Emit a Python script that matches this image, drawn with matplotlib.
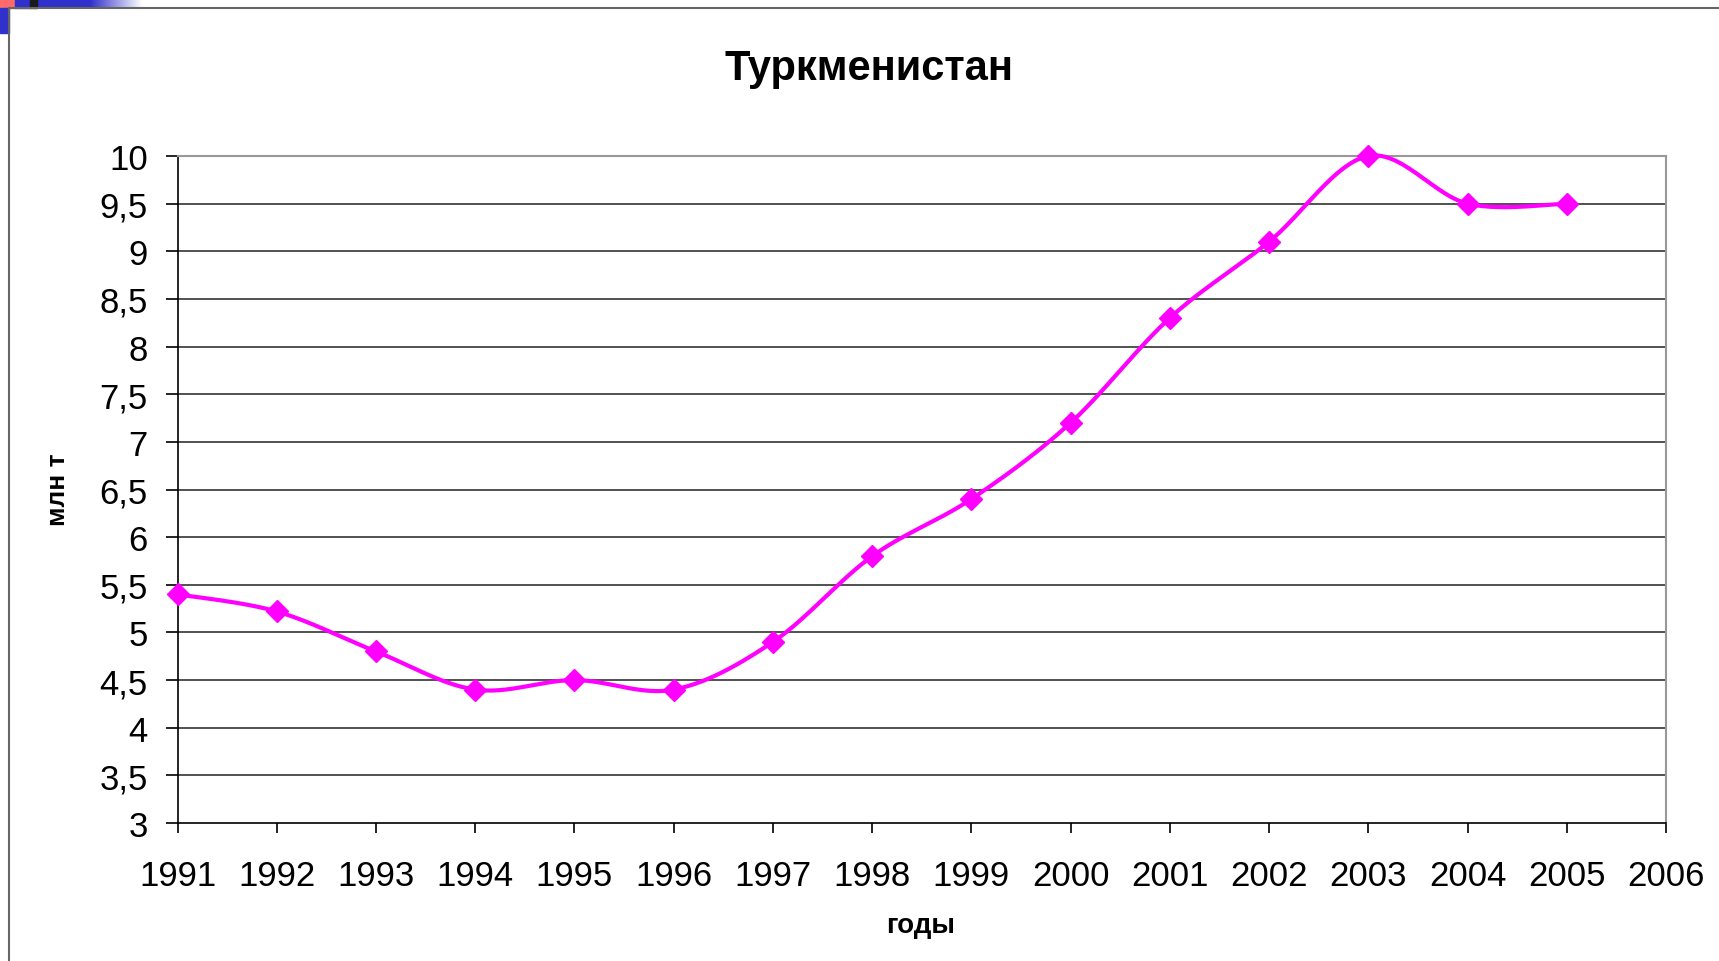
import numpy as np
import matplotlib
matplotlib.use("Agg")
import matplotlib.pyplot as plt
from matplotlib.patches import Rectangle
from matplotlib.colors import LinearSegmentedColormap

plt.rcParams['font.family'] = ['Liberation Sans', 'DejaVu Sans']

# Data
years = [1991, 1992, 1993, 1994, 1995, 1996, 1997, 1998,
         1999, 2000, 2001, 2002, 2003, 2004, 2005]
values = [5.4, 5.22, 4.8, 4.4, 4.5, 4.4, 4.9, 5.8,
          6.4, 7.2, 8.3, 9.1, 10.0, 9.5, 9.5]
year_ticks = list(range(1991, 2007))
y_ticks = [3 + 0.5 * i for i in range(15)]

title = "Туркменистан"
x_label = "годы"
y_label = "млн т"
line_color = "#FF00FF"


# Smooth curve through the points (like Excel's "smoothed line")
def smooth_curve(xs, ys, steps=30):
    pts = np.column_stack([xs, ys]).astype(float)
    out = []
    n = len(pts)
    for i in range(n - 1):
        p0 = pts[i - 1] if i > 0 else pts[i]
        p1 = pts[i]
        p2 = pts[i + 1]
        p3 = pts[i + 2] if i + 2 < n else pts[i + 1]
        c1 = p1 + (p2 - p0) / 6.0
        c2 = p2 - (p3 - p1) / 6.0
        t = np.linspace(0, 1, steps)[:, None]
        seg = ((1 - t) ** 3) * p1 + 3 * ((1 - t) ** 2) * t * c1 \
            + 3 * (1 - t) * t ** 2 * c2 + t ** 3 * p2
        out.append(seg if i == 0 else seg[1:])
    curve = np.vstack(out)
    return curve[:, 0], curve[:, 1]


fig = plt.figure(figsize=(17.19, 9.62), dpi=100)
W, H = 1719, 962

# slide decoration in the top-left corner
fig.patches.append(Rectangle((0, 1 - 9 / H), 15 / W, 9 / H, transform=fig.transFigure,
                             color="#FF6B6B", zorder=0))
fig.patches.append(Rectangle((0, 1 - 34 / H), 9 / W, 25 / H, transform=fig.transFigure,
                             color="#3030CC", zorder=0))
fig.patches.append(Rectangle((15 / W, 1 - 9 / H), 15 / W, 9 / H, transform=fig.transFigure,
                             color="#3030CC", zorder=0))
fig.patches.append(Rectangle((30 / W, 1 - 9 / H), 7 / W, 9 / H, transform=fig.transFigure,
                             color="#1A1A1A", zorder=0))
grad = np.linspace(0, 1, 100)[None, :]
gax = fig.add_axes([37 / W, 1 - 9 / H, 105 / W, 9 / H])
cmap = LinearSegmentedColormap.from_list("g", ["#3030CC", "#3030CC", "#FFFFFF"])
gax.imshow(grad, aspect="auto", cmap=cmap)
gax.axis("off")

# slide frame lines
fig.add_artist(plt.Line2D([9 / W, 9 / W], [0, 1 - 9 / H], transform=fig.transFigure,
                          color="#666666", lw=1.5))
fig.add_artist(plt.Line2D([9 / W, 1], [1 - 9 / H, 1 - 9 / H], transform=fig.transFigure,
                          color="#666666", lw=1.5))

# plot area
left, right, top, bottom = 177.5, 1666, 157, 824
ax = fig.add_axes([left / W, 1 - bottom / H, (right - left) / W, (bottom - top) / H])

ax.set_xlim(1991, 2006)
ax.set_ylim(3, 10)
ax.set_yticks(y_ticks)
ax.set_yticklabels([("%g" % v).replace(".", ",") for v in y_ticks], fontsize=25)
ax.set_xticks(year_ticks)
ax.set_xticklabels([str(y) for y in year_ticks], fontsize=25)
ax.tick_params(axis="y", length=8.5, width=1.2, pad=13, direction="out")
ax.tick_params(axis="x", length=7, width=1.2, pad=19, direction="out")

for v in y_ticks[1:-1]:
    ax.axhline(v, color="#333333", lw=1.2, zorder=1)
ax.spines["left"].set_color("black")
ax.spines["bottom"].set_color("black")
ax.spines["left"].set_linewidth(1.2)
ax.spines["bottom"].set_linewidth(1.2)
ax.spines["top"].set_color("#999999")
ax.spines["right"].set_color("#999999")
ax.spines["top"].set_linewidth(1.5)
ax.spines["right"].set_linewidth(1.5)

sx, sy = smooth_curve(years, values)
ax.plot(sx, sy, color=line_color, lw=3, zorder=3, clip_on=False)
ax.plot(years, values, linestyle="none", marker="D", markersize=11,
        color=line_color, zorder=4, clip_on=False)

fig.text(869 / W, 1 - 80 / H, title, fontsize=30, fontweight="bold",
         ha="center", va="baseline")
fig.text(921 / W, 1 - 926 / H, x_label, fontsize=20, fontweight="bold",
         ha="center", va="center")
fig.text(58 / W, 1 - 490 / H, y_label, fontsize=19, fontweight="bold",
         ha="center", va="center", rotation=90)

fig.savefig("out.png", dpi=100)
